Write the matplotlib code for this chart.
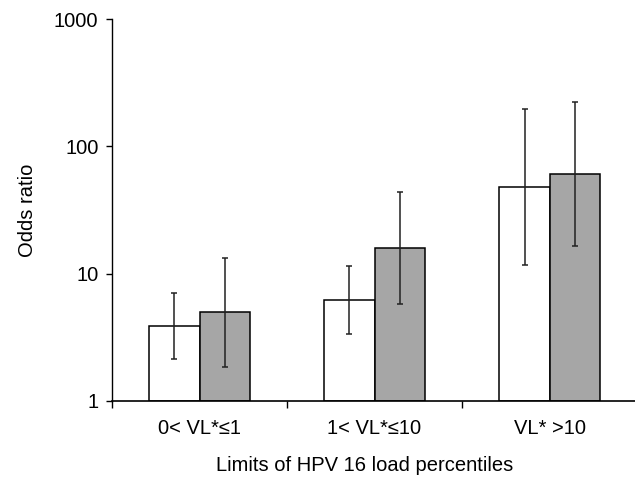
import matplotlib.pyplot as plt
import numpy as np

plt.rcParams["font.family"] = ["Liberation Sans", "DejaVu Sans"]

categories = ["0< VL*\u22641", "1< VL*\u226410", "VL* >10"]

# odds ratios with 95% CI
white_or = [3.9, 6.2, 48.0]
white_lo = [2.14, 3.34, 11.7]
white_hi = [7.0, 11.4, 197.0]

grey_or = [5.0, 15.8, 60.7]
grey_lo = [1.85, 5.8, 16.6]
grey_hi = [13.3, 43.6, 224.0]


def main() -> None:
    fig = plt.figure(figsize=(6.35, 4.8), dpi=100)
    ax = fig.add_axes([0.1764, 0.1646, 0.8268, 0.7958])

    x = np.arange(len(categories)) + 0.5
    width = 0.286

    # bars start at 1 on the log axis
    ax.bar(x - width / 2, np.array(white_or) - 1, width, bottom=1, color="white",
           edgecolor="black", linewidth=1.1, zorder=2)
    ax.bar(x + width / 2, np.array(grey_or) - 1, width, bottom=1, color="#a6a6a6",
           edgecolor="black", linewidth=1.1, zorder=2)

    for xs, vals, lo, hi in [(x - width / 2, white_or, white_lo, white_hi),
                             (x + width / 2, grey_or, grey_lo, grey_hi)]:
        vals = np.array(vals)
        err = [vals - np.array(lo), np.array(hi) - vals]
        ax.errorbar(xs, vals, yerr=err, fmt="none", ecolor="#222222",
                    elinewidth=1.1, capsize=2, capthick=1.1, zorder=3)

    ax.set_yscale("log")
    ax.set_ylim(1, 1000)
    ax.set_xlim(0, 3)
    ax.set_yticks([1, 10, 100, 1000])
    ax.set_yticklabels(["1", "10", "100", "1000"])
    ax.yaxis.set_minor_locator(plt.NullLocator())

    ax.set_xticks([0, 1, 2, 3])
    ax.set_xticklabels([])
    ax.set_xticks(x, minor=True)
    ax.set_xticklabels(categories, minor=True)
    ax.tick_params(axis="x", which="minor", length=0, pad=13, labelsize=14.5)
    ax.tick_params(axis="x", which="major", direction="out", length=5, width=1)
    ax.tick_params(axis="y", direction="out", length=4.3, width=1, labelsize=14.5, pad=5.5)

    for side in ["top", "right"]:
        ax.spines[side].set_visible(False)
    ax.spines["left"].set_linewidth(1)
    ax.spines["bottom"].set_linewidth(1.2)

    ax.set_ylabel("Odds ratio", fontsize=14.5, labelpad=12)
    ax.set_xlabel("Limits of HPV 16 load percentiles", fontsize=14.5, labelpad=12)
    ax.xaxis.set_label_coords(0.481, -0.145)

    fig.savefig("out.png", dpi=100)
    plt.close(fig)


if __name__ == "__main__":
    main()
